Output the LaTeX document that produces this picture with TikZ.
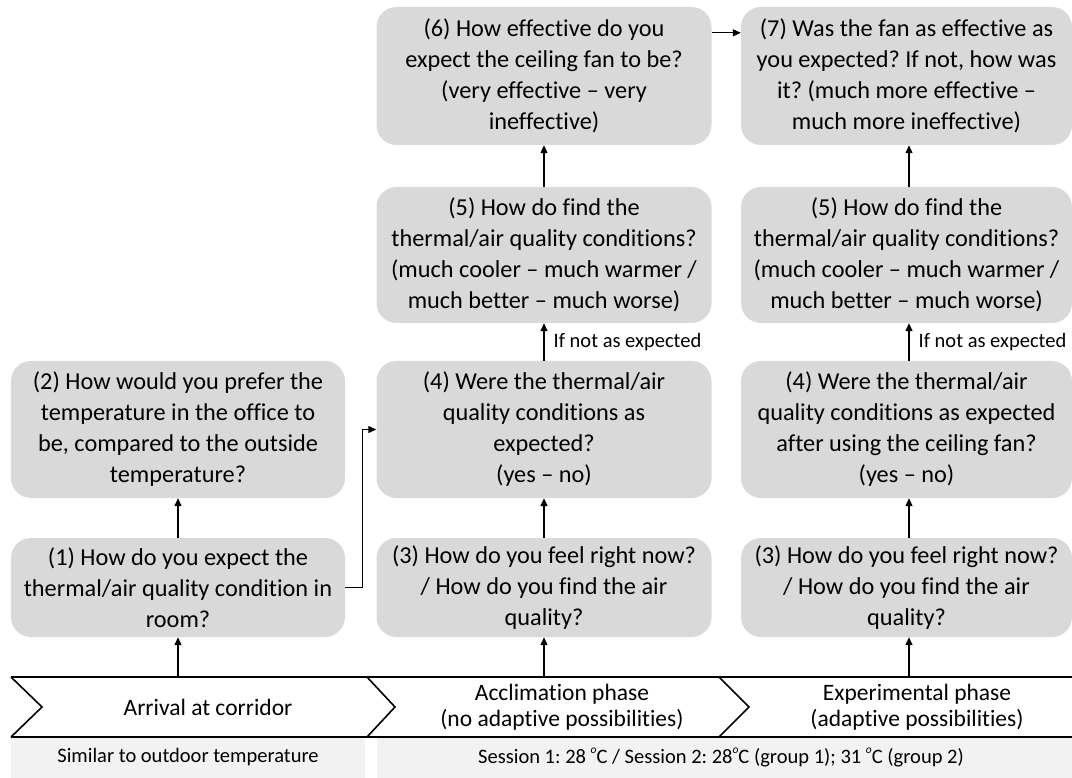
\documentclass[tikz,border=0pt]{standalone}
\usepackage{fontspec}
\setmainfont{Carlito}[Ligatures=NoCommon]
\usetikzlibrary{arrows.meta,calc}
\definecolor{boxgray}{HTML}{D9D9D9}
\definecolor{bandgray}{HTML}{F2F2F2}
\newcommand{\degsym}{\raisebox{0.5em}{\fontsize{11.5}{11.5}\selectfont\itshape o}}
\frenchspacing
\begin{document}
\begin{tikzpicture}[x=1pt,y=-1pt,
  qbox/.style={rectangle, rounded corners=20pt, fill=boxgray, align=center,
    inner sep=0pt, font=\fontsize{24.3}{31}\selectfont},
  arr/.style={line width=1.3pt, -{Triangle[length=8pt,width=7pt]}},
  lab/.style={font=\fontsize{20.5}{24}\selectfont, inner sep=0pt, xshift=9pt},
  phase/.style={font=\fontsize{23.5}{26}\selectfont, align=center},
  band/.style={font=\fontsize{20.5}{24}\selectfont}]
\useasboundingbox (0,0) rectangle (1072,778);

% question boxes: left column
\node[qbox, minimum width=334pt, minimum height=99pt] (b1) at (178,587.5)
  {(1) How do you expect the\\thermal/air quality condition in\\room?};
\node[qbox, minimum width=334pt, minimum height=137pt] (b2) at (178,429.5)
  {(2) How would you prefer the\\temperature in the office to\\be, compared to the outside\\temperature?};

% acclimation phase column
\node[qbox, minimum width=335pt, minimum height=99pt] (a3) at (544,587.5)
  {(3) How do you feel right now?\\/ How do you find the air\\quality?};
\node[qbox, minimum width=335pt, minimum height=137pt] (a4) at (544,429.5)
  {(4) Were the thermal/air\\quality conditions as\\expected?\\(yes – no)};
\node[qbox, minimum width=335pt, minimum height=136pt] (a5) at (544,255)
  {(5) How do find the\\thermal/air quality conditions?\\(much cooler – much warmer /\\much better – much worse)};
\node[qbox, minimum width=335pt, minimum height=138pt] (a6) at (544,76)
  {(6) How effective do you\\expect the ceiling fan to be?\\(very effective – very\\ineffective)};

% experimental phase column
\node[qbox, minimum width=331pt, minimum height=99pt] (e3) at (906.5,587.5)
  {(3) How do you feel right now?\\/ How do you find the air\\quality?};
\node[qbox, minimum width=331pt, minimum height=137pt] (e4) at (906.5,429.5)
  {(4) Were the thermal/air\\quality conditions as expected\\after using the ceiling fan?\\(yes – no)};
\node[qbox, minimum width=331pt, minimum height=136pt] (e5) at (906.5,255)
  {(5) How do find the\\thermal/air quality conditions?\\(much cooler – much warmer /\\much better – much worse)};
\node[qbox, minimum width=331pt, minimum height=138pt] (e7) at (906.5,76)
  {(7) Was the fan as effective as\\you expected? If not, how was\\it? (much more effective –\\much more ineffective)};

% phase chevrons
\draw[line width=1.6pt, line join=miter]
  (11,677) -- (1080,677)
  (11,737) -- (1080,737)
  (11,677) -- (42,707) -- (11,737)
  (367,677) -- (395,707) -- (367,737)
  (719,677) -- (749,707) -- (719,737);
\node[phase] (p1) at (208,707) {Arrival at corridor};
\node[phase] (p2) at (562,707) {Acclimation phase\\(no adaptive possibilities)};
\node[phase] (p3) at (917,707) {Experimental phase\\(adaptive possibilities)};

\coordinate (c1) at (178,677);
\coordinate (c2) at (544,677);
\coordinate (c3) at (909,677);

% temperature bands
\fill[bandgray] (11,738) rectangle (365,778);
\fill[bandgray] (377,738) rectangle (1072,778);
\node[band] (t1) at (188,757.5) {Similar to outdoor temperature};
\node[band] (t2) at (721,757.5)
  {Session 1: 28 \degsym C / Session 2: 28\degsym C (group 1); 31 \degsym C (group 2)};

% connectors
\draw[arr] (c1) -- (b1.south);
\draw[arr] (b1.north) -- (b2.south);
\draw[arr] (b1.east) -- ++(17,0) |- (a4.west);

\draw[arr] (c2) -- (a3.south);
\draw[arr] (a3.north) -- (a4.south);
\draw[arr] (a4.north) -- node[right, lab] {If not as expected} (a5.south);
\draw[arr] (a5.north) -- (a6.south);
\draw[arr] ([yshift=-26pt]a6.north east) -- ([yshift=-26pt]e7.north west);

\draw[arr] (c3) -- (c3 |- e3.south);
\draw[arr] (c3 |- e3.north) -- (c3 |- e4.south);
\draw[arr] (c3 |- e4.north) -- node[right, lab] {If not as expected} (c3 |- e5.south);
\draw[arr] (c3 |- e5.north) -- (c3 |- e7.south);
\end{tikzpicture}
\end{document}
